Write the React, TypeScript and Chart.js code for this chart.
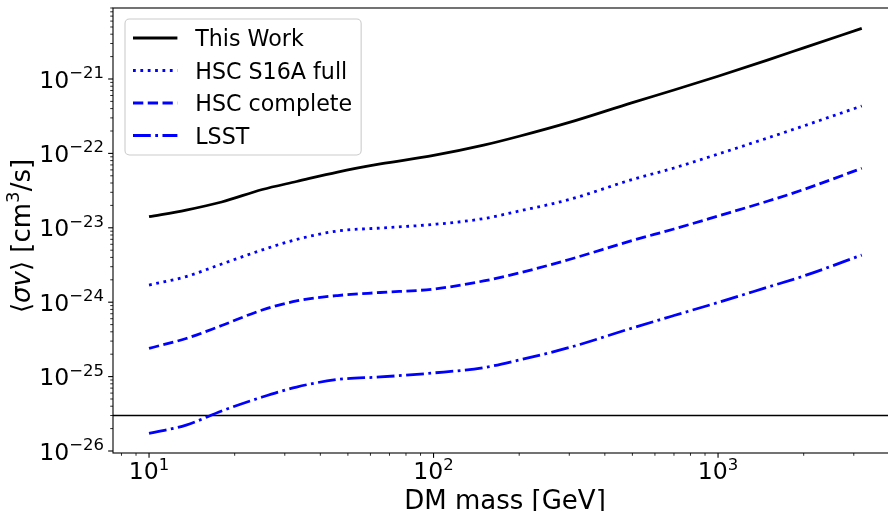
import React, { useEffect, useRef } from "react";
import { Chart, registerables } from "chart.js";

Chart.register(...registerables);

// ---------- data ----------
const massGeV = [10, 13.5, 18, 25, 33, 46, 65, 100, 150, 200, 300, 500, 700, 1000, 1500, 2000, 3200];
const thisWork = [1.41e-23, 1.73e-23, 2.22e-23, 3.27e-23, 4.19e-23, 5.62e-23, 7.21e-23, 9.38e-23, 1.29e-22, 1.7e-22, 2.61e-22, 4.82e-22, 7.11e-22, 1.09e-21, 1.81e-21, 2.62e-21, 4.8e-21];
const hscS16AFull = [1.7e-24, 2.21e-24, 3.26e-24, 5.04e-24, 6.97e-24, 9.05e-24, 9.93e-24, 1.11e-23, 1.33e-23, 1.68e-23, 2.4e-23, 4.46e-23, 6.37e-23, 9.8e-23, 1.62e-22, 2.34e-22, 4.34e-22];
const hscComplete = [2.4e-25, 3.25e-25, 4.86e-25, 7.85e-25, 1.04e-24, 1.23e-24, 1.35e-24, 1.5e-24, 1.93e-24, 2.47e-24, 3.75e-24, 6.75e-24, 9.64e-24, 1.44e-23, 2.29e-23, 3.27e-23, 6.31e-23];
const lsst = [1.73e-26, 2.23e-26, 3.45e-26, 5.32e-26, 7.24e-26, 9.14e-26, 9.89e-26, 1.12e-25, 1.32e-25, 1.67e-25, 2.46e-25, 4.5e-25, 6.62e-25, 9.91e-25, 1.6e-24, 2.25e-24, 4.3e-24];
const thermalRelic = 3e-26;

const seriesLabels = ["This Work", "HSC S16A full", "HSC complete", "LSST"];
const xLimits = [7.47, 4256];
const yLimits = [9.4e-27, 9.0e-21];
const xTickExponents = ["1", "2", "3"];
const yTickExponents = ["\u221226", "\u221225", "\u221224", "\u221223", "\u221222", "\u221221"];
const xAxisTitle = "DM mass [GeV]";

// ---------- styling ----------
const FAMILY = '"DejaVu Sans", "Noto Sans", sans-serif';
const TICK_FONT = 23.6;
const EXP_FONT = 16.5;
const LABEL_FONT = 26;
const LEGEND_FONT = 22.2;
const LW = 2.78;
const MAJOR_LEN = 4.86;
const MINOR_LEN = 2.78;

const mplPlugin = {
  id: "mplAxes",
  afterDraw(chart: any) {
    const { ctx, chartArea: a, scales } = chart;
    const xs = scales.x;
    const ys = scales.y;
    ctx.save();

    // spines
    ctx.strokeStyle = "#000";
    ctx.lineWidth = 1.1;
    ctx.strokeRect(a.left, a.top, a.right - a.left, a.bottom - a.top);

    // ticks
    const tickLoop = (scale: any, cb: (px: number, major: boolean, e: number) => void) => {
      const e0 = Math.floor(Math.log10(scale.min));
      const e1 = Math.ceil(Math.log10(scale.max));
      for (let e = e0; e <= e1; e++) {
        for (let k = 1; k <= 9; k++) {
          const v = k * Math.pow(10, e);
          if (v < scale.min * 0.9999 || v > scale.max * 1.0001) continue;
          cb(scale.getPixelForValue(v), k === 1, e);
        }
      }
    };
    tickLoop(xs, (px, major) => {
      ctx.lineWidth = major ? 1.1 : 0.83;
      ctx.beginPath();
      ctx.moveTo(px, a.bottom);
      ctx.lineTo(px, a.bottom + (major ? MAJOR_LEN : MINOR_LEN));
      ctx.stroke();
    });
    tickLoop(ys, (py, major) => {
      ctx.lineWidth = major ? 1.1 : 0.83;
      ctx.beginPath();
      ctx.moveTo(a.left, py);
      ctx.lineTo(a.left - (major ? MAJOR_LEN : MINOR_LEN), py);
      ctx.stroke();
    });

    // tick labels
    ctx.fillStyle = "#000";
    ctx.textBaseline = "alphabetic";
    const mainFont = `${TICK_FONT}px ${FAMILY}`;
    const expFont = `${EXP_FONT}px ${FAMILY}`;
    xTickExponents.forEach((ex) => {
      const v = Math.pow(10, parseInt(ex, 10));
      const px = xs.getPixelForValue(v);
      ctx.font = mainFont;
      const w1 = ctx.measureText("10").width;
      ctx.font = expFont;
      const w2 = ctx.measureText(ex).width;
      const x0 = px - (w1 + w2) / 2;
      const base = a.bottom + 26.3;
      ctx.textAlign = "left";
      ctx.font = mainFont;
      ctx.fillText("10", x0, base);
      ctx.font = expFont;
      ctx.fillText(ex, x0 + w1, base - 9.6);
    });
    yTickExponents.forEach((ex) => {
      const v = Math.pow(10, parseInt(ex.replace("\u2212", "-"), 10));
      const py = ys.getPixelForValue(v);
      const right = a.left - MAJOR_LEN - 4.86 + 0.8;
      ctx.textAlign = "right";
      ctx.font = expFont;
      const w2 = ctx.measureText(ex).width;
      ctx.fillText(ex, right, py - 1);
      ctx.font = mainFont;
      ctx.fillText("10", right - w2, py + 8.6);
    });

    // x axis title
    ctx.textAlign = "center";
    ctx.font = `${LABEL_FONT}px ${FAMILY}`;
    ctx.fillText(xAxisTitle, (a.left + a.right) / 2, 509);

    // y axis title: <sigma v> [cm^3/s]
    const runs = [
      { t: "\u27E8", f: `${LABEL_FONT}px ${FAMILY}`, dy: 0 },
      { t: "\u03C3v", f: `italic ${LABEL_FONT}px ${FAMILY}`, dy: 0 },
      { t: "\u27E9", f: `${LABEL_FONT}px ${FAMILY}`, dy: 0 },
      { t: " [cm", f: `${LABEL_FONT}px ${FAMILY}`, dy: 0 },
      { t: "3", f: `${LABEL_FONT * 0.7}px ${FAMILY}`, dy: -10.5 },
      { t: "/s]", f: `${LABEL_FONT}px ${FAMILY}`, dy: 0 },
    ];
    let total = 0;
    const widths = runs.map((r) => {
      ctx.font = r.f;
      const w = ctx.measureText(r.t).width;
      total += w;
      return w;
    });
    ctx.save();
    ctx.translate(29.5, 236);
    ctx.rotate(-Math.PI / 2);
    ctx.textAlign = "left";
    let cx = -total / 2;
    runs.forEach((r, i) => {
      ctx.font = r.f;
      ctx.fillText(r.t, cx, r.dy);
      cx += widths[i];
    });
    ctx.restore();

    // legend
    const ds = chart.data.datasets.slice(0, seriesLabels.length);
    ctx.font = `${LEGEND_FONT}px ${FAMILY}`;
    const maxText = Math.max(...ds.map((d: any) => ctx.measureText(d.label).width));
    const lx = a.left + 12;
    const ly = a.top + 11;
    const lw = 8 + 44.4 + 17.8 + maxText + 9;
    const rowH = 32.5;
    const lh = 9 + rowH * ds.length - 3;
    ctx.beginPath();
    if ((ctx as any).roundRect) (ctx as any).roundRect(lx, ly, lw, lh, 4.4);
    else ctx.rect(lx, ly, lw, lh);
    ctx.fillStyle = "rgba(255,255,255,0.8)";
    ctx.fill();
    ctx.strokeStyle = "#cccccc";
    ctx.lineWidth = 1.1;
    ctx.stroke();
    ds.forEach((d: any, i: number) => {
      const cy = ly + 19 + i * rowH;
      ctx.save();
      ctx.strokeStyle = d.borderColor;
      ctx.lineWidth = d.borderWidth;
      ctx.lineCap = "butt";
      ctx.setLineDash(d.borderDash || []);
      ctx.beginPath();
      ctx.moveTo(lx + 8, cy);
      ctx.lineTo(lx + 8 + 44.4, cy);
      ctx.stroke();
      ctx.restore();
      ctx.fillStyle = "#000";
      ctx.textAlign = "left";
      ctx.font = `${LEGEND_FONT}px ${FAMILY}`;
      ctx.fillText(d.label, lx + 8 + 44.4 + 17.8, cy + 8);
    });

    ctx.restore();
  },
};

export default function App() {
  const ref = useRef<HTMLCanvasElement | null>(null);

  useEffect(() => {
    if (!ref.current) return;
    const toPts = (arr: number[]) => massGeV.map((m, i) => ({ x: m, y: arr[i] }));
    const base = {
      fill: false,
      pointRadius: 0,
      borderWidth: LW,
      borderCapStyle: "butt" as const,
      cubicInterpolationMode: "monotone" as const,
    };
    const chart = new Chart(ref.current, {
      type: "line",
      data: {
        datasets: [
          { ...base, label: seriesLabels[0], data: toPts(thisWork), borderColor: "#000000", borderDash: [] },
          { ...base, label: seriesLabels[1], data: toPts(hscS16AFull), borderColor: "#0000ff", borderDash: [2.78, 4.59] },
          { ...base, label: seriesLabels[2], data: toPts(hscComplete), borderColor: "#0000ff", borderDash: [10.3, 4.45] },
          { ...base, label: seriesLabels[3], data: toPts(lsst), borderColor: "#0000ff", borderDash: [17.8, 4.45, 2.78, 4.45] },
          {
            label: "",
            data: [
              { x: xLimits[0], y: thermalRelic },
              { x: xLimits[1], y: thermalRelic },
            ],
            borderColor: "#000000",
            borderWidth: 1.6,
            pointRadius: 0,
            fill: false,
          },
        ],
      },
      options: {
        responsive: false,
        animation: false,
        events: [],
        layout: { padding: { left: 0, top: 8, right: 3, bottom: 0 } },
        plugins: { legend: { display: false }, tooltip: { enabled: false }, title: { display: false } },
        scales: {
          x: {
            type: "logarithmic",
            min: xLimits[0],
            max: xLimits[1],
            grid: { display: false },
            border: { display: false },
            ticks: { display: false },
            afterFit: (s: any) => {
              s.height = 58;
            },
          },
          y: {
            type: "logarithmic",
            min: yLimits[0],
            max: yLimits[1],
            grid: { display: false },
            border: { display: false },
            ticks: { display: false },
            afterFit: (s: any) => {
              s.width = 113;
            },
          },
        },
      },
      plugins: [mplPlugin],
    });
    return () => chart.destroy();
  }, []);

  return (
    <div
      style={{
        position: "fixed",
        left: 0,
        top: 0,
        width: 888,
        height: 511,
        overflow: "hidden",
        background: "#ffffff",
      }}
    >
      <canvas ref={ref} width={900} height={511} style={{ display: "block", width: 900, height: 511 }} />
    </div>
  );
}
